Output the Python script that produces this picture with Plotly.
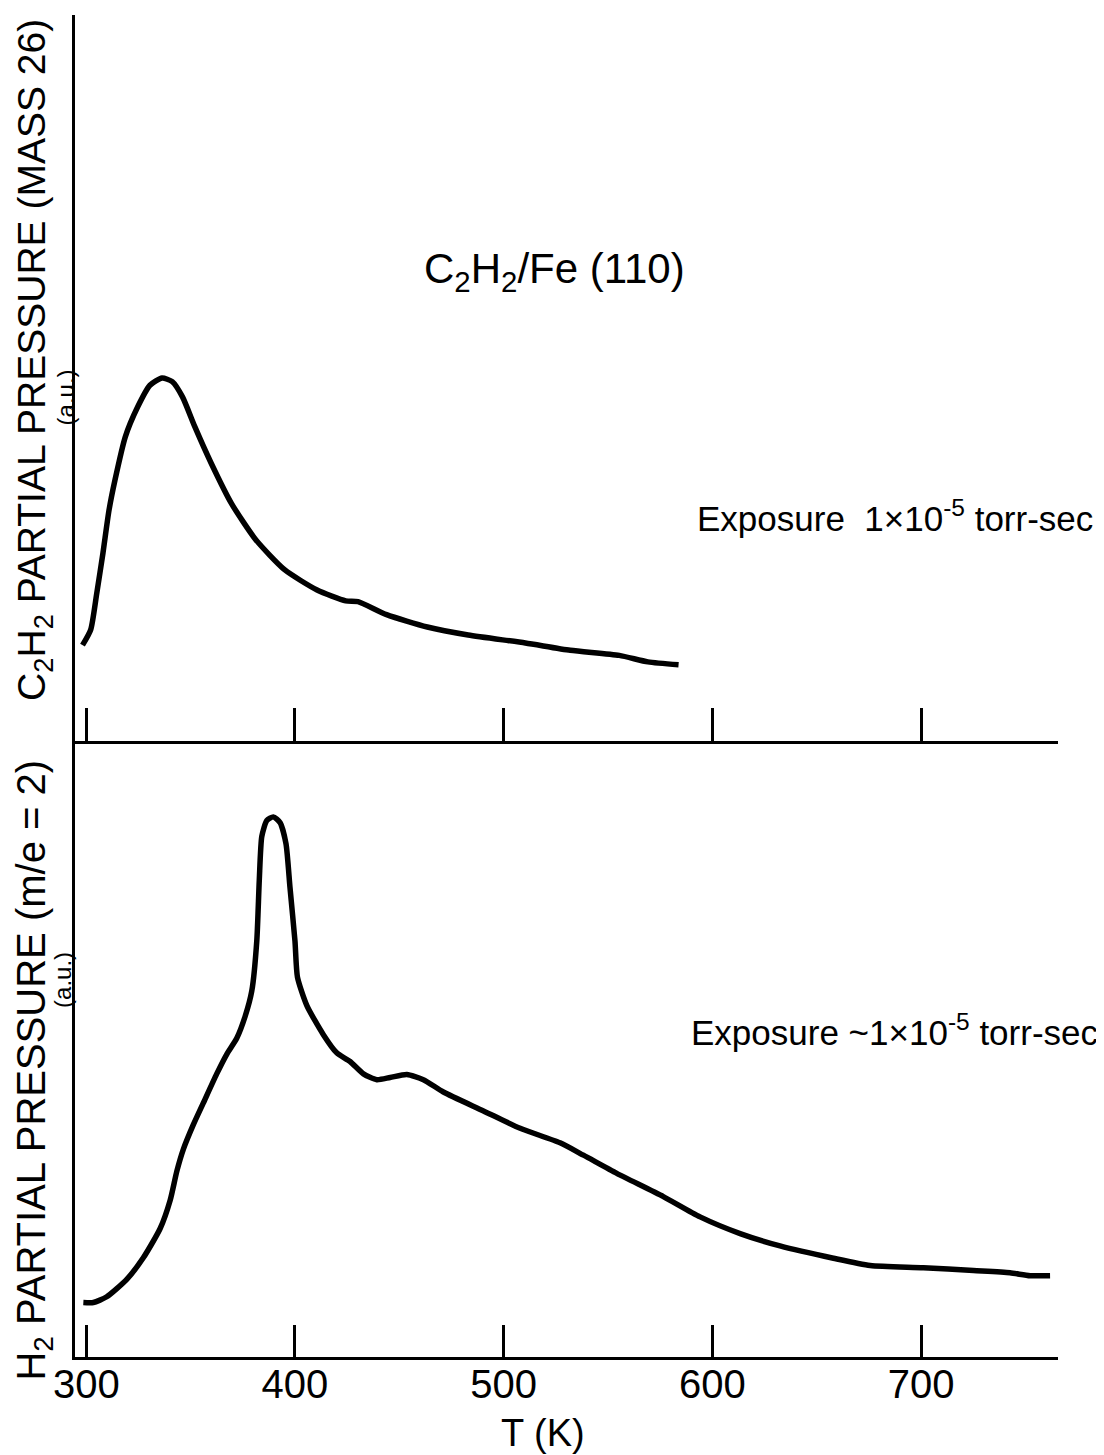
import plotly.graph_objects as go

# ---- data (T in K, partial pressure in arbitrary units) ----
c2h2_T = [298.2, 302.1, 305.0, 308.0, 310.9, 313.8, 318.7, 324.6, 330.5, 336.3,
          341.2, 346.1, 352.0, 359.8, 369.6, 381.3, 395.0, 410.6, 424.3, 430.2,
          443.9, 463.4, 483.0, 510.4, 531.9, 555.4, 569.1, 583.8]
c2h2_P = [1.32, 1.53, 2.03, 2.59, 3.18, 3.60, 4.19, 4.60, 4.90, 5.00,
          4.95, 4.74, 4.33, 3.83, 3.27, 2.77, 2.36, 2.08, 1.93, 1.92,
          1.74, 1.57, 1.46, 1.35, 1.25, 1.18, 1.09, 1.05]

h2_T = [298.6, 303.4, 309.8, 319.4, 327.4, 335.4, 340.2, 343.4, 346.5, 351.3,
        356.1, 362.5, 367.3, 372.1, 376.1, 379.3, 381.7, 382.9, 384.1, 386.5,
        389.6, 392.9, 395.7, 397.6, 400.0, 401.2, 405.7, 413.6, 420.0, 426.4,
        432.8, 439.2, 445.6, 453.6, 461.5, 471.1, 490.3, 507.9, 527.0, 538.2,
        554.2, 576.5, 594.1, 613.3, 632.4, 658.0, 675.6, 701.1, 725.1, 742.6,
        752.2, 761.8]
h2_P = [0.75, 0.75, 0.83, 1.07, 1.37, 1.77, 2.16, 2.56, 2.86, 3.20,
        3.50, 3.90, 4.17, 4.39, 4.69, 5.04, 5.73, 6.57, 7.17, 7.39,
        7.44, 7.36, 7.07, 6.47, 5.73, 5.23, 4.84, 4.44, 4.19, 4.07,
        3.90, 3.82, 3.85, 3.89, 3.82, 3.65, 3.39, 3.15, 2.95, 2.78,
        2.53, 2.21, 1.93, 1.70, 1.53, 1.36, 1.26, 1.23, 1.19, 1.16,
        1.12, 1.12]

x_ticks = [300, 400, 500, 600, 700]
x_range = [294.6, 765.6]

FONT = "Liberation Sans, Arial, sans-serif"

fig = go.Figure()
fig.add_trace(go.Scatter(x=c2h2_T, y=c2h2_P, mode="lines", xaxis="x2", yaxis="y2",
                         line=dict(color="black", width=5.5, shape="spline", smoothing=0.6),
                         showlegend=False))
fig.add_trace(go.Scatter(x=h2_T, y=h2_P, mode="lines", xaxis="x", yaxis="y",
                         line=dict(color="black", width=5.5, shape="spline", smoothing=0.6),
                         showlegend=False))

axis_common = dict(showline=True, linecolor="black", linewidth=3, showgrid=False,
                   zeroline=False)

# page body has an 8px default margin, so the figure is 8px smaller
fig.update_layout(
    width=1096, height=1447,
    margin=dict(l=67, r=46, t=7, b=98, autoexpand=False),
    paper_bgcolor="white", plot_bgcolor="white",
    font=dict(family=FONT, color="black"),
    xaxis=dict(**axis_common, range=x_range, tickvals=x_ticks, ticks="inside",
               ticklen=32, tickwidth=2.5, tickcolor="black", ticklabelstandoff=-10,
               tickfont=dict(size=40, family=FONT), anchor="y", domain=[0, 1]),
    yaxis=dict(**axis_common, range=[0, 8.485], showticklabels=False, ticks="",
               domain=[0, 0.459], anchor="x"),
    xaxis2=dict(**axis_common, range=x_range, tickvals=x_ticks, ticks="inside",
                ticklen=33, tickwidth=2.5, tickcolor="black", showticklabels=False,
                anchor="y2", matches="x", domain=[0, 1]),
    yaxis2=dict(**axis_common, range=[0, 10], showticklabels=False, ticks="",
                domain=[0.459, 1], anchor="x2"),
)

def ann(text, x, y, size, angle=0, xanchor="center", yanchor="middle"):
    fig.add_annotation(text=text, x=x, y=y, xref="paper", yref="paper",
                       showarrow=False, textangle=angle, xanchor=xanchor,
                       yanchor=yanchor, font=dict(size=size, family=FONT, color="black"))

ann("C<sub>2</sub>H<sub>2</sub> PARTIAL PRESSURE (MASS 26)", -0.0407, 0.743, 39, angle=-90)
ann("(a.u.)", -0.0102, 0.715, 24, angle=-90)
ann("H<sub>2</sub> PARTIAL PRESSURE (m/e = 2)", -0.0420, 0.214, 40, angle=-90)
ann("(a.u.)", -0.0122, 0.281, 24, angle=-90)
ann("C<sub>2</sub>H<sub>2</sub>/Fe (110)", 0.488, 0.8085, 42)
ann("Exposure  1×10<sup>-5</sup> torr-sec", 0.834, 0.627, 35)
ann("Exposure ~1×10<sup>-5</sup> torr-sec", 0.834, 0.2437, 35)
ann("T (K)", 0.476, -0.0565, 38)

fig.write_html("out.html")
